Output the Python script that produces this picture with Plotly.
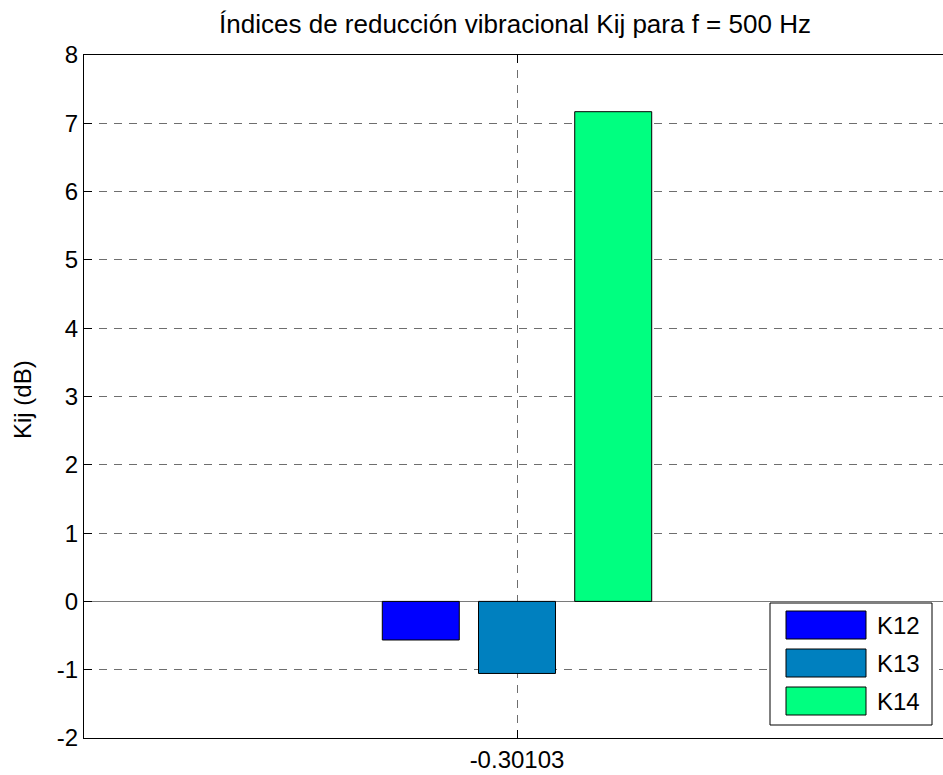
import plotly.graph_objects as go

# Vibration reduction indices at f = 500 Hz
group_x = -0.30103
series_names = ["K12", "K13", "K14"]
series_values = [-0.565, -1.055, 7.17]
series_colors = ["#0000FF", "#0080BF", "#00FF80"]
y_ticks = [-2, -1, 0, 1, 2, 3, 4, 5, 6, 7, 8]
y_tick_labels = ["-2", "-1", "0", "1", "2", "3", "4", "5", "6", "7", "8"]
x_tick_label = "-0.30103"

FONT = "Liberation Sans, Arial, sans-serif"
W, H = 943, 775
L, T, B = 84, 55, 37          # margins in px
PW, PH = W - L, H - T - B     # plot area size

# grouped-bar geometry (in x units)
n = len(series_names)
group_width = min(0.8, n / (n + 1.5))
slot = group_width / n
bar_w = slot * 0.8

fig = go.Figure()
for i, (name, val, col) in enumerate(zip(series_names, series_values, series_colors)):
    center_off = (i - (n - 1) / 2) * slot
    fig.add_trace(go.Bar(
        x=[group_x], y=[val], name=name,
        width=bar_w, offset=center_off - bar_w / 2,
        marker=dict(color=col, line=dict(color="#000000", width=1)),
        showlegend=False,
    ))

# x axis spans one unit either side of the group; the right part is clipped by the page
px_per_unit = 433
x_lo = group_x - 1.0
x_hi = x_lo + PW / px_per_unit


def px_to_paper_x(px):
    return (px - L) / PW


def px_to_paper_y(py):
    return (H - B - py) / PH


# legend box with wide colour swatches
shapes = []
annotations = []
shapes.append(dict(type="rect", xref="paper", yref="paper",
                   x0=px_to_paper_x(770), x1=px_to_paper_x(932),
                   y0=px_to_paper_y(725), y1=px_to_paper_y(603),
                   line=dict(color="#000000", width=1), fillcolor="#FFFFFF",
                   layer="above"))
sw_tops = [611, 649, 687]
for name, col, top in zip(series_names, series_colors, sw_tops):
    shapes.append(dict(type="rect", xref="paper", yref="paper",
                       x0=px_to_paper_x(786), x1=px_to_paper_x(866),
                       y0=px_to_paper_y(top + 28), y1=px_to_paper_y(top),
                       line=dict(color="#000000", width=1), fillcolor=col,
                       layer="above"))
    annotations.append(dict(xref="paper", yref="paper",
                            x=px_to_paper_x(875), y=px_to_paper_y(top + 14),
                            text=name, showarrow=False, xanchor="left",
                            yanchor="middle",
                            font=dict(family=FONT, size=24, color="#000000")))

# y axis label
annotations.append(dict(xref="paper", yref="paper",
                        x=px_to_paper_x(23), y=px_to_paper_y(400),
                        text="Kij (dB)", showarrow=False, textangle=-90,
                        xanchor="center", yanchor="middle",
                        font=dict(family=FONT, size=24, color="#000000")))

fig.update_layout(
    width=W, height=H,
    margin=dict(l=L, r=0, t=T, b=B, pad=0),
    paper_bgcolor="#FFFFFF", plot_bgcolor="#FFFFFF",
    barmode="overlay",
    font=dict(family=FONT, size=24, color="#000000"),
    title=dict(text="Índices de reducción vibracional Kij para f = 500 Hz",
               x=515 / W, xanchor="center", xref="container",
               y=1 - 24 / H, yanchor="middle",
               font=dict(family=FONT, size=26, color="#000000")),
    shapes=shapes,
    annotations=annotations,
    xaxis=dict(range=[x_lo, x_hi], tickvals=[group_x], ticktext=[x_tick_label],
               showgrid=True, gridcolor="#6E6E6E", griddash="8px,7px", gridwidth=1,
               zeroline=False, showline=True, linecolor="#000000", linewidth=1,
               mirror="ticks", ticks="inside", ticklen=8, tickcolor="#000000",
               tickfont=dict(family=FONT, size=24)),
    yaxis=dict(range=[-2, 8], tickvals=y_ticks, ticktext=y_tick_labels,
               showgrid=True, gridcolor="#6E6E6E", griddash="8px,7px", gridwidth=1,
               zeroline=True, zerolinecolor="#7A7A7A", zerolinewidth=1,
               showline=True, linecolor="#000000", linewidth=1, mirror=False,
               ticks="inside", ticklen=8, tickcolor="#000000",
               tickfont=dict(family=FONT, size=24)),
)

fig.write_html("out.html")
